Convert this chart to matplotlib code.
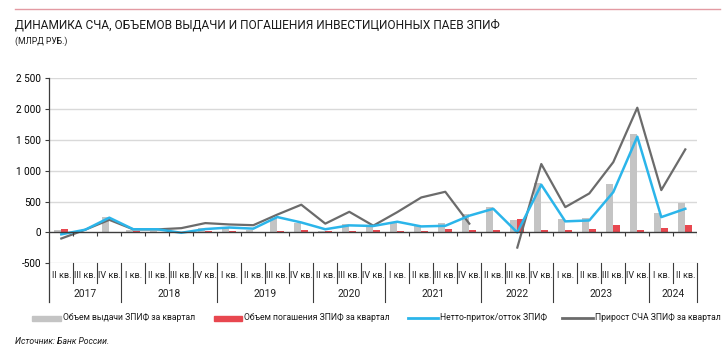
import numpy as np
import matplotlib
matplotlib.use("Agg")
from matplotlib import pyplot as plt
from matplotlib.lines import Line2D
from matplotlib.patches import Rectangle
from matplotlib.transforms import blended_transform_factory

plt.rcParams['font.family'] = ['Roboto', 'DejaVu Sans']

# quarters on the x axis (as printed in the source, 2020 and 2022 start with II кв.)
quarters = ["II кв.", "III кв.", "IV кв.",
            "I кв.", "II кв.", "III кв.", "IV кв.",
            "I кв.", "II кв.", "III кв.", "IV кв.",
            "II кв.", "III кв.", "IV кв.",
            "I кв.", "II кв.", "III кв.", "IV кв.",
            "II кв.", "III кв.", "IV кв.",
            "I кв.", "II кв.", "III кв.", "IV кв.",
            "I кв.", "II кв."]
years = ["2017", "2018", "2019", "2020", "2021", "2022", "2023", "2024"]
yearSpans = [3, 4, 4, 3, 4, 3, 4, 2]

# billion rubles
issueVolume = [35, 10, 250, 43, 20, 15, 65, 76, 45, 228, 157, 20, 130, 92,
               152, 103, 152, 293, 417, 200, 795, 211, 238, 779, 1596, 308, 481]
redemptionVolume = [60, 5, 5, 20, 5, 5, 27, 22, 10, 27, 38, 22, 27, 43,
                    22, 22, 49, 33, 32, 211, 32, 32, 49, 124, 43, 65, 114]
netFlow = [-30, 45, 240, 52, 52, -5, 55, 80, 62, 250, 162, 52, 115, 105,
           174, 98, 108, 272, 384, 0, 774, 180, 195, 655, 1553, 249, 384]
navGrowth = [-98, 45, 205, 50, 50, 70, 152, 130, 118, 290, 450, 143, 335, 110,
             330, 568, 660, 143, np.nan, -245, 1110, 411, 633, 1141, 2023, 687, 1347]

colorIssue = '#c4c4c4'
colorRedemption = '#e8474f'
colorNet = '#2bb5ea'
colorNav = '#6b6b6b'
colorAxis = '#3c3c3c'

W, H = 723, 357


def fx(px):
    return px / W


def fy(py):
    return 1 - py / H


fig = plt.figure(figsize=(W / 100, H / 100), dpi=100)
axLeft, axRight, axTop, axBottom = 49.3, 697.3, 78.3, 263.3
ax = fig.add_axes([fx(axLeft), fy(axBottom), fx(axRight - axLeft), (axBottom - axTop) / H])

x = np.arange(len(quarters))
barW = 0.29
ax.bar(x - barW / 2, issueVolume, width=barW, color=colorIssue, zorder=2)
ax.bar(x + barW / 2, redemptionVolume, width=barW, color=colorRedemption, zorder=2)
ax.plot(x, navGrowth, color=colorNav, lw=1.6, zorder=3)
ax.plot(x, netFlow, color=colorNet, lw=1.8, zorder=4)

ax.set_xlim(-0.5, len(quarters) - 0.5)
ax.set_ylim(-500, 2500)
yt = [-500, 0, 500, 1000, 1500, 2000, 2500]
ax.set_yticks(yt)
ax.set_yticklabels([f"{v:,}".replace(",", " ") for v in yt], fontsize=7.2)
ax.set_xticks([])
for v in yt:
    if v != 0:
        ax.axhline(v, color='#d9d9d9', lw=1, zorder=1)
ax.axhline(0, color=colorAxis, lw=1, zorder=5)
bounds = np.arange(len(quarters) + 1) - 0.5
ax.vlines(bounds[1:], -50, 0, color=colorAxis, lw=0.8, zorder=5)

for s in ax.spines.values():
    s.set_visible(False)
ax.tick_params(axis='y', length=3, width=0.8, color=colorAxis, pad=3)

# left axis line running down through the category table
fig.add_artist(Line2D([fx(axLeft), fx(axLeft)], [fy(axTop), fy(302)], color=colorAxis, lw=0.9))

# category table under the plot
bt = blended_transform_factory(ax.transData, fig.transFigure)
yearEnds = np.cumsum(yearSpans)
for i, b in enumerate(bounds[1:]):
    isYear = (i + 1) in yearEnds
    bottom = 302 if isYear else 283
    ax.add_artist(Line2D([b, b], [fy(axBottom), fy(bottom)], transform=bt, color=colorAxis,
                         lw=0.8, clip_on=False))
for i, q in enumerate(quarters):
    ax.text(i, fy(276), q, transform=bt, ha='center', va='center', fontsize=6.5, color='#222222')
start = 0
for yr, span in zip(years, yearSpans):
    ax.text(start + (span - 1) / 2, fy(294), yr, transform=bt, ha='center', va='center',
            fontsize=7.4, color='#222222')
    start += span

# title block
fig.add_artist(Line2D([fx(15), fx(720)], [fy(9), fy(9)], color='#e39aa3', lw=1))
fig.text(fx(15), fy(25), "ДИНАМИКА СЧА, ОБЪЕМОВ ВЫДАЧИ И ПОГАШЕНИЯ ИНВЕСТИЦИОННЫХ ПАЕВ ЗПИФ",
         fontsize=8.6, va='center', ha='left', color='#1a1a1a')
fig.text(fx(15), fy(41), "(МЛРД РУБ.)", fontsize=6.2, va='center', ha='left', color='#1a1a1a')

# legend
legY = 318
items = [
    ('patch', colorIssue, 32, 61, "Объем выдачи ЗПИФ за квартал"),
    ('patch', colorRedemption, 214, 242, "Объем погашения ЗПИФ за квартал"),
    ('line', colorNet, 408, 438, "Нетто-приток/отток ЗПИФ"),
    ('line', colorNav, 562, 593, "Прирост СЧА ЗПИФ за квартал"),
]
for kind, c, x0, x1, label in items:
    if kind == 'patch':
        fig.add_artist(Rectangle((fx(x0), fy(legY + 2.5)), fx(x1 - x0), 5 / H, color=c,
                                 transform=fig.transFigure))
    else:
        fig.add_artist(Line2D([fx(x0), fx(x1)], [fy(legY), fy(legY)], color=c, lw=2))
    fig.text(fx(x1 + 2), fy(legY), label, fontsize=6.2, va='center', ha='left', color='#1a1a1a')

fig.text(fx(15), fy(342), "Источник: Банк России.", fontsize=6.2, style='italic',
         va='center', ha='left', color='#1a1a1a')

fig.savefig("out.png", dpi=100)
